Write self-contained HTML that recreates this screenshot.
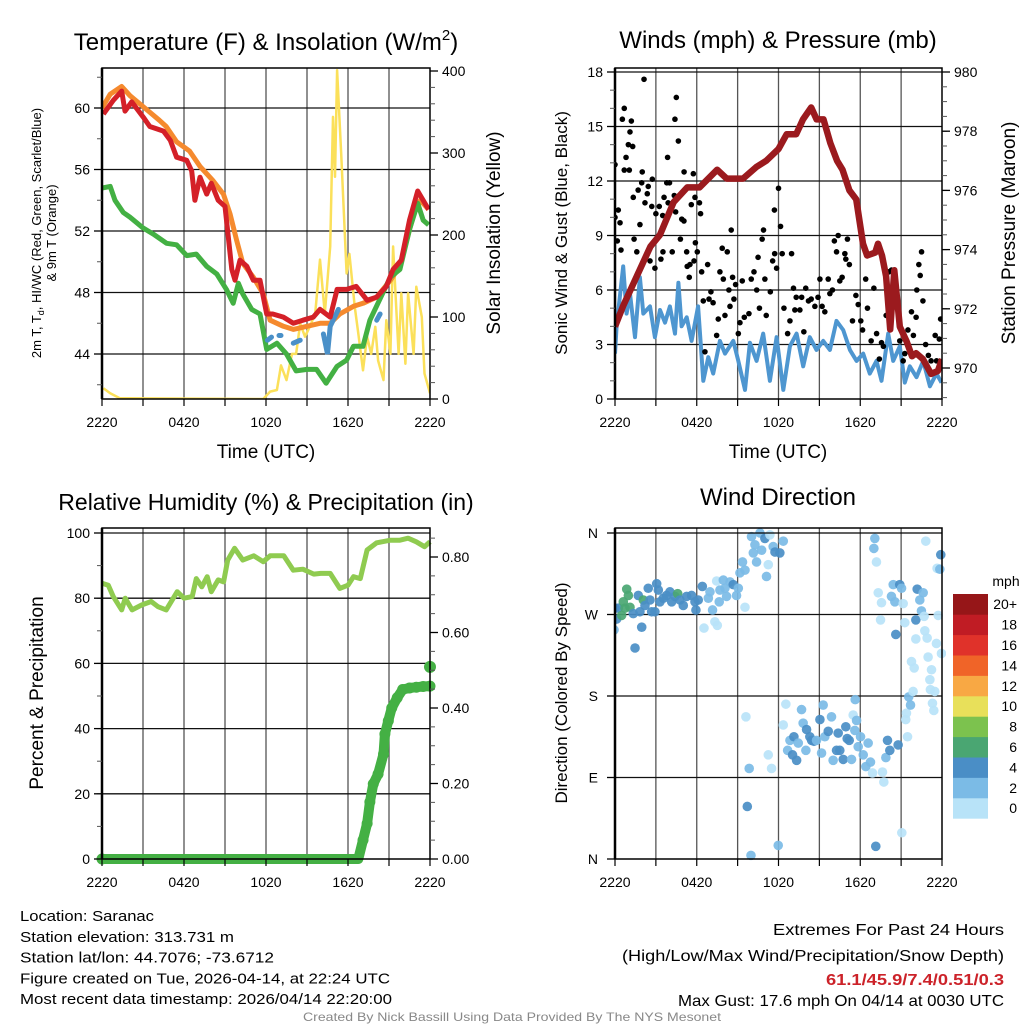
<!DOCTYPE html>
<html><head><meta charset="utf-8"><title>Saranac Meteogram</title>
<style>
html,body{margin:0;padding:0;background:#fff;}
svg{display:block;font-family:"Liberation Sans",Arial,sans-serif;}
</style></head>
<body>
<svg id="chart" xmlns="http://www.w3.org/2000/svg" width="1024" height="1024" viewBox="0 0 1024 1024">
<rect x="0" y="0" width="1024" height="1024" fill="#fff"/>
<g id="layer"></g>
</svg>
<script>
// ===== Data (hours since 2220 UTC) =====
const xTickLabels = ["2220","0420","1020","1620","2220"];
const tempHours = [0.1,0.83,1.44,1.68,2.17,3.02,3.5,4.5,5.0,5.46,6.2,6.56,6.8,7.17,7.66,8.0,8.5,9.0,9.5,9.73,10.1,10.6,11.07,11.56,12.05,12.5,13.27,14.0,14.7,15.46,15.95,16.7,17.2,17.9,18.6,19.4,20.1,20.8,21.3,21.9,22.5,23.1,23.9];
const tempValues = [59.6,60.5,61.1,59.8,60.4,59.4,58.8,58.5,57.9,56.8,56.6,55.9,54.0,55.5,54.4,55.1,54.0,53.6,49.5,48.8,50.1,49.7,48.8,48.8,46.6,46.6,46.4,46.0,46.2,46.4,46.9,46.4,48.2,48.2,48.4,47.5,47.7,48.4,49.5,50.1,52.7,54.6,53.4];
const t9Hours = [0,0.6,1.44,2.05,3.0,4.2,4.7,5.46,6.4,7.17,8.1,8.88,9.37,9.85,10.3,11.07,11.8,12.3,13.27,14.0,15.0,15.95,16.7,17.4,18.4,19.1,20.1,21.1,21.8,22.8,23.3,23.9];
const t9Values = [60.0,60.9,61.4,60.8,60.1,59.2,58.8,57.8,57.2,56.2,55.3,54.4,53.1,51.4,49.9,49.0,47.9,46.2,45.8,45.6,45.8,46.0,46.0,46.6,47.1,47.3,47.7,48.8,49.7,53.1,54.0,53.4];
const dewHours = [0,0.6,0.95,1.56,2.05,3.0,3.75,4.73,5.46,6.2,6.9,7.66,8.4,9.1,9.6,9.98,10.3,10.95,11.56,12.05,12.8,13.5,14.2,15.0,15.7,16.4,17.2,17.9,18.4,19.1,19.6,20.3,21.1,21.8,22.5,23.1,23.5,23.9];
const dewValues = [54.8,54.9,54.0,53.2,52.9,52.2,51.8,51.2,51.1,50.4,50.5,49.7,49.2,48.2,47.3,48.6,47.9,46.9,46.6,44.3,44.7,44.0,42.9,43.0,43.0,42.1,43.2,43.6,44.5,44.5,46.2,47.5,49.0,49.5,52.1,53.8,52.7,52.4];
const wcHours = [12.1,12.4,null,12.95,13.1,null,14.0,14.5,null,16.2,16.5,16.7,17.3,null,20.1,20.35];
const wcValues = [44.9,45.1,null,45.2,45.2,null,44.7,44.9,null,45.3,44.0,45.8,46.9,null,46.2,46.6];
const solarHours = [0.1,0.6,1.3,11.8,12.3,12.8,13.1,13.5,13.9,14.2,14.5,14.85,15.2,15.6,15.95,16.3,16.7,16.9,17.05,17.2,17.5,17.9,18.1,18.5,18.75,19.1,19.4,19.7,20.0,20.2,20.6,20.8,21.1,21.3,21.7,21.9,22.2,22.4,22.8,23.0,23.4,23.6,24.0];
const solarValues = [13,7,1,0,9,11,41,23,55,55,92,76,88,104,170,104,186,344,271,401,299,153,177,112,80,35,76,55,88,47,23,96,55,186,55,129,43,129,55,137,100,31,7];
const tempTicks = [44,48,52,56,60];
const solarTicks = [0,100,200,300,400];

const presHours = [0,0.6,1.6,2.6,3.3,4.3,5.3,6.2,7.5,8.2,9.4,10.4,11.1,12.0,12.6,13.3,13.8,14.4,14.8,15.3,15.8,16.3,16.7,17.2,17.7,18.2,18.5,19.1,19.3,19.6,19.9,20.2,20.5,20.9,21.4,21.8,22.1,22.6,23.2,23.7,24.0];
const presValues = [971.4,972.1,973.1,974.1,974.5,975.6,976.1,976.1,976.7,976.4,976.4,976.8,977.0,977.4,977.9,977.9,978.4,978.8,978.4,978.4,977.6,977.0,976.7,976.0,975.7,974.2,973.8,973.9,974.2,973.8,973.1,971.3,973.3,971.4,970.9,970.4,970.5,970.3,969.8,969.9,970.3];
const windHours = [0,0.12,0.6,0.85,1.1,1.47,1.83,2.08,2.57,2.93,3.3,3.67,4.03,4.4,4.65,4.89,5.26,5.62,6.1,6.48,6.85,7.21,7.7,8.07,8.68,9.05,9.54,9.9,10.39,10.88,11.37,11.86,12.35,12.84,13.33,13.81,14.3,14.79,15.28,15.77,16.26,16.75,17.24,17.73,18.22,18.7,19.19,19.56,20.05,20.42,20.9,21.27,21.64,22.13,22.62,23.11,23.6,23.96];
const windValues = [2.5,4.0,7.3,4.7,5.8,3.4,6.7,4.7,5.1,3.4,4.9,4.2,5.1,3.6,6.4,4.0,4.5,3.2,5.1,1.0,2.3,1.4,3.2,2.5,3.2,2.1,0.5,3.1,2.1,3.6,1.0,3.4,0.5,2.9,3.6,1.8,3.4,2.7,3.2,2.7,4.3,3.8,2.7,2.1,2.5,1.4,2.1,1.0,3.6,2.1,2.9,0.9,1.8,1.2,2.1,0.7,1.4,0.9];
const gustHours = [0,0,0.24,0.37,0.17,0.44,0.54,0.68,0.81,0.68,0.98,1.1,1.2,1.3,1.05,1.34,1.4,1.6,1.7,1.83,2.0,1.96,2.13,2.2,2.37,2.44,2.57,2.74,2.7,2.93,3.0,3.25,3.37,3.5,3.52,3.6,3.86,3.8,3.9,4.0,4.2,4.35,4.4,4.5,4.45,4.65,4.8,4.9,5.06,5.07,5.26,5.3,5.45,5.5,5.6,5.75,5.8,5.87,5.9,6.04,6.2,6.28,6.36,6.48,6.6,6.8,6.9,7.04,7.2,7.46,7.58,7.7,7.87,7.95,8.07,8.24,8.36,8.44,8.53,8.63,8.73,8.85,9.05,9.17,9.34,9.49,9.83,10.0,10.2,10.4,10.5,10.6,10.8,10.9,11.0,11.1,11.4,11.57,11.7,11.72,11.86,12.0,12.15,12.27,12.4,12.67,12.84,12.96,13.1,13.2,13.3,13.57,13.7,13.86,14.0,14.2,14.4,14.67,14.9,15.04,15.2,15.4,15.65,15.77,15.96,16.1,16.26,16.38,16.5,16.67,16.87,16.94,17.06,17.2,17.43,17.68,17.85,18.04,18.17,18.4,18.53,18.8,19.0,19.2,19.4,19.56,19.7,19.9,20.1,20.3,20.5,20.66,20.9,21.15,21.27,21.5,21.76,21.9,22.1,22.15,22.3,22.4,22.5,22.6,22.8,23.0,23.2,23.5,23.6,23.8,23.9];
const gustValues = [10.0,12.9,10.4,9.7,8.7,8.2,15.4,16.0,13.3,12.6,14.0,14.7,15.3,13.9,12.6,11.1,8.8,8.1,11.5,9.6,12.5,11.9,17.6,10.8,11.3,11.7,7.6,12.1,10.6,7.2,10.2,10.6,7.7,10.1,8.1,11.1,13.3,11.9,10.8,11.9,8.1,11.2,15.4,16.6,10.3,14.2,8.8,9.9,9.8,12.5,8.1,7.3,6.7,7.4,10.7,12.4,7.6,11.1,8.6,8.1,10.8,10.2,7.0,5.4,2.6,7.4,5.5,5.9,5.3,3.5,4.4,7.0,8.3,6.6,4.6,8.1,6.0,5.1,9.3,6.7,5.5,6.3,3.6,4.2,6.5,4.5,4.7,6.6,7.0,6.0,7.8,5.0,8.8,9.3,6.6,4.6,5.9,7.6,10.4,8.0,7.2,11.6,9.5,8.0,5.0,3.6,4.3,8.0,6.1,4.9,5.6,4.9,5.6,3.7,6.1,5.4,5.5,5.1,5.6,6.6,5.1,4.8,6.6,5.8,6.0,8.7,8.1,9.0,6.5,6.7,8.0,7.7,8.8,7.4,4.3,5.7,5.2,4.3,3.8,6.6,5.0,3.2,6.1,3.6,2.2,3.1,2.9,4.6,7.0,7.1,6.9,5.4,3.2,2.1,2.5,3.8,4.8,3.5,4.5,6.0,7.4,6.8,8.1,5.4,3.0,2.4,2.1,3.5,2.1,3.3,4.4];
const windTicks = [0,3,6,9,12,15,18];
const presTicks = [970,972,974,976,978,980];

const rhHours = [0,0.46,0.83,1.44,1.7,2.2,2.9,3.6,4.1,4.7,5.5,6.0,6.6,6.9,7.3,7.7,8.0,8.5,8.9,9.2,9.7,10.3,11.1,11.8,12.3,13.3,14.0,14.7,15.5,16.0,16.7,17.4,18.0,18.4,18.9,19.4,20.1,21.1,21.8,22.4,23.0,23.6,24.0];
const rhValues = [84.6,84,80.5,76.4,80,76.4,77.9,79,77.4,76.4,82,80,80.5,86,83.5,86.6,82,85.6,85,91.7,95.3,91.7,93,91.2,93,93,88.6,88.9,87.4,87.6,87.6,83,84,86.6,86,94.8,97,97.8,97.8,98.4,97.3,95.8,97.3];
const precipHours = [0,3,6,9,12,15,18,18.75,19.1,19.4,19.6,19.85,20.2,20.6,20.7,20.95,21.2,21.6,22.0,22.5,23.0,23.5,24.0];
const precipValues = [0,0,0,0,0,0,0,0,0.05,0.094,0.151,0.199,0.225,0.278,0.331,0.366,0.40,0.427,0.449,0.453,0.455,0.457,0.458];
const precipLastValue = 0.509;
const rhTicks = [0,20,40,60,80,100];
const precipTicks = [0,0.2,0.4,0.6,0.8];
const precipTickLabels = ["0.00","0.20","0.40","0.60","0.80"];

const dirHours = [0,-0.07,0.12,0.24,0.49,0.73,0.61,0.98,0.86,1.10,1.34,1.47,1.71,1.83,1.96,2.08,2.20,2.44,2.57,2.69,2.93,3.06,3.18,3.30,3.55,3.79,4.03,4.16,4.40,4.60,4.77,5.01,5.26,5.62,5.87,5.94,6.11,6.41,6.53,6.85,6.97,7.16,7.33,7.51,7.46,7.70,7.65,7.95,8.07,8.19,8.44,8.68,8.92,9.05,9.17,9.36,9.54,9.54,9.61,9.71,9.85,9.98,10.02,10.15,10.39,10.27,10.64,10.76,11.00,11.12,11.25,11.25,11.37,11.49,11.61,11.74,11.98,12.10,12.35,12.35,12.54,12.67,12.84,13.03,13.13,13.33,13.45,13.69,13.81,14.01,14.06,14.30,14.43,14.60,14.79,15.04,15.16,15.28,15.40,15.65,15.89,16.01,16.26,16.38,16.50,16.75,16.94,17.04,17.19,17.36,17.48,17.60,17.73,17.63,17.85,18.02,18.22,18.41,18.58,18.75,18.90,19.07,19.00,19.14,19.19,19.32,19.49,19.56,19.63,19.73,19.88,20.00,20.17,20.29,20.42,20.54,20.61,20.78,20.90,21.03,21.05,21.15,21.27,21.47,21.34,21.39,21.56,21.69,21.76,21.88,21.96,22.08,22.08,22.18,22.37,22.49,22.62,22.69,22.74,22.91,22.98,23.11,23.23,23.15,23.30,23.40,23.47,23.59,23.72,22.81,23.64,23.84,23.91,23.96];
const dirValues = [277,253,265,277,269,277,284,291,298,278,271,233,291,273,256,286,280,299,286,273,273,304,297,284,288,291,295,284,290,293,286,280,290,291,284,275,286,301,255,288,295,275,262,258,307,297,284,308,299,290,306,303,291,299,316,328,278,319,157,58,100,4,356,338,328,347,360,341,354,312,325,115,358,100,345,339,15,338,351,148,171,120,131,115,135,109,128,165,150,120,143,135,131,130,131,154,117,170,135,141,157,109,120,139,120,110,146,133,131,110,159,142,153,176,124,135,115,102,128,107,95,354,343,14,328,294,264,283,96,85,112,131,120,290,303,284,248,126,303,299,29,282,261,135,154,161,179,170,218,185,211,243,264,298,286,274,294,268,252,244,223,198,209,187,172,164,185,238,269,351,321,320,336,227];
const dirSpeeds = [4,2,4,4,6,6,6,6,6,6,4,4,4,4,4,6,4,4,4,4,4,4,4,4,4,4,4,4,4,6,4,4,4,4,4,4,4,4,0,2,2,2,0,0,0,2,2,2,2,2,2,4,2,2,2,2,0,2,0,4,2,2,2,2,2,2,2,2,4,2,0,0,0,0,2,4,2,4,2,0,0,2,2,4,4,4,2,2,2,2,4,4,4,4,2,4,2,2,2,4,2,2,4,4,4,4,4,4,4,2,0,2,2,2,2,2,2,2,2,2,0,2,2,4,0,0,0,0,0,0,2,4,4,2,2,2,4,4,4,2,0,0,0,0,0,0,2,2,0,0,0,0,4,4,2,2,2,0,0,0,0,0,0,0,0,0,0,0,0,0,0,2,4,0];
const dirTickLabels = ["N","E","S","W","N"];
const speedLabels = ["0","2","4","6","8","10","12","14","16","18","20+"];
const speedColors = ["#b8e3f8","#7bbbe6","#4a8ec6","#4aa672","#7cc24e","#e8e05a","#f8a844","#f06428","#e0322a","#c01c24","#961618"];

// ===== helpers =====
const NS = "http://www.w3.org/2000/svg";
const layer = document.getElementById('layer');
function mk(tag, attrs, parent){ const e=document.createElementNS(NS,tag); for(const k in attrs) e.setAttribute(k,attrs[k]); (parent||layer).appendChild(e); return e; }
function lin(d0,d1,r0,r1){ return v => r0 + (v-d0)*(r1-r0)/(d1-d0); }
function pathFrom(xs, ys, fx, fy){
  let d="", pen=false;
  for(let i=0;i<xs.length;i++){
    if(xs[i]===null||ys[i]===null){pen=false;continue;}
    d += (pen?"L":"M")+fx(xs[i]).toFixed(1)+","+fy(ys[i]).toFixed(1);
    pen=true;
  }
  return d;
}
function txt(x,y,s,size,opts,name){
  const t=mk('text',Object.assign({x:x,y:y,'font-size':size,fill:'#000'},opts||{}));
  t.textContent=s;
  
  
  return t;
}

function panelFrame(x0,x1,y0,y1,fx,leftTicks,fyL,rightTicks,fyR,name){
  const g=mk('g',{});
  
  
  for(let h=3;h<24;h+=3){
    const l=mk('line',{x1:fx(h),x2:fx(h),y1:y0,y2:y1,stroke:'#555','stroke-width':1.3},g);
    
    
  }
  leftTicks.forEach(v=>{
    const y=fyL(v);
    if(y>y0+2&&y<y1-2){
      const l=mk('line',{x1:x0,x2:x1,y1:y,y2:y,stroke:'#111','stroke-width':1.3},g);
      
      
    }
  });
  return g;
}
function frameBorder(x0,x1,y0,y1,name){
  const r=mk('rect',{x:x0,y:y0,width:x1-x0,height:y1-y0,fill:'none',stroke:'#000','stroke-width':1.5});
  
  
  mk('line',{x1:x0,x2:x0,y1:y0,y2:y1,stroke:'#000','stroke-width':2.5});
}
function xAxis(x0,x1,y1,fx,name){
  for(let h=0;h<=24;h+=3){
    mk('line',{x1:fx(h),x2:fx(h),y1:y1,y2:y1+7,stroke:'#000','stroke-width':1.2});
  }
  xTickLabels.forEach((s,i)=>{ txt(fx(i*6),y1+28,s,14,{'text-anchor':'middle'},name+'-x-tick-label'); });
}
function yTicks(x,ticks,fy,labels,side,name,minorStep,dmin,dmax){
  const dir = side==='left'?-1:1;
  if(minorStep){
    for(let v=Math.ceil(dmin/minorStep)*minorStep; v<=dmax; v+=minorStep){
      mk('line',{x1:x,x2:x+dir*5,y1:fy(v),y2:fy(v),stroke:'#555','stroke-width':1});
    }
  }
  ticks.forEach((v,i)=>{
    mk('line',{x1:x,x2:x+dir*8,y1:fy(v),y2:fy(v),stroke:'#000','stroke-width':1.3});
    txt(side==='left'?x-12:x+12,fy(v)+5,labels[i],14,{'text-anchor':side==='left'?'end':'start'},name);
  });
}

// ===== Panel 1: Temperature =====
(function(){
  const x0=102,x1=430,y0=68,y1=399;
  const fx=lin(0,24,x0,x1);
  const fy=lin(44,60,354,108);
  const fs=lin(0,400,399,71);
  panelFrame(x0,x1,y0,y1,fx,tempTicks,fy,solarTicks,fs,'temperature');
  const clip=mk('clipPath',{id:'c1'}); mk('rect',{x:x0,y:y0,width:x1-x0,height:y1-y0},clip);
  const g=mk('g',{'clip-path':'url(#c1)'});
  const s=mk('path',{d:pathFrom(solarHours,solarValues,fx,fs),fill:'none',stroke:'#fbe05a','stroke-width':2.5,'stroke-linejoin':'round'},g);
   
  const o=mk('path',{d:pathFrom(t9Hours,t9Values,fx,fy),fill:'none',stroke:'#f58a2e','stroke-width':5,'stroke-linejoin':'round'},g);
   
  const d=mk('path',{d:pathFrom(dewHours,dewValues,fx,fy),fill:'none',stroke:'#43b043','stroke-width':5,'stroke-linejoin':'round'},g);
   
  const w=mk('path',{d:pathFrom(wcHours,wcValues,fx,fy),fill:'none',stroke:'#4a90c8','stroke-width':5,'stroke-linecap':'round'},g);
   
  const r=mk('path',{d:pathFrom(tempHours,tempValues,fx,fy),fill:'none',stroke:'#d42028','stroke-width':5,'stroke-linejoin':'round'},g);
   
  frameBorder(x0,x1,y0,y1,'temperature');
  xAxis(x0,x1,y1,fx,'temperature');
  yTicks(x0,tempTicks,fy,tempTicks.map(String),'left','temperature-y-tick-label',2,41.1,62.6);
  yTicks(x1,solarTicks,fs,solarTicks.map(String),'right','solar-y-tick-label',20,0,403);
  const t=txt(266,50,'',24,{'text-anchor':'middle'},'temperature-title');
  t.innerHTML='Temperature (F) &amp; Insolation (W/m<tspan font-size="15" dy="-10">2</tspan><tspan dy="10">)</tspan>';
  txt(266,458,'Time (UTC)',19,{'text-anchor':'middle'},'temperature-x-axis-title');
  const yl=txt(0,0,'',13,{'text-anchor':'middle',transform:'translate(41,233) rotate(-90)'},'temperature-y-axis-title');
  yl.innerHTML='2m T, T<tspan font-size="9" dy="3">d</tspan><tspan dy="-3">, HI/WC (Red, Green, Scarlet/Blue)</tspan>';
  txt(0,0,'& 9m T (Orange)',13,{'text-anchor':'middle',transform:'translate(56,233) rotate(-90)'},'temperature-y-axis-title-line2');
  txt(0,0,'Solar Insolation (Yellow)',19,{'text-anchor':'middle',transform:'translate(500,233) rotate(-90)'},'solar-y-axis-title');
})();

// ===== Panel 2: Winds & Pressure =====
(function(){
  const x0=615,x1=942,y0=68,y1=399;
  const fx=lin(0,24,x0,x1);
  const fy=lin(0,18,399,72);
  const fp=lin(970,980,368,72);
  panelFrame(x0,x1,y0,y1,fx,windTicks,fy,presTicks,fp,'winds');
  const clip=mk('clipPath',{id:'c2'}); mk('rect',{x:x0,y:y0,width:x1-x0,height:y1-y0},clip);
  const g=mk('g',{'clip-path':'url(#c2)'});
  const w=mk('path',{d:pathFrom(windHours,windValues,fx,fy),fill:'none',stroke:'#4e96d0','stroke-width':4,'stroke-linejoin':'round'},g);
   
  const gg=mk('g',{},g);
   
  gustHours.forEach((h,i)=>{
    const c=mk('circle',{cx:fx(h),cy:fy(gustValues[i]),r:2.8,fill:'#000'},gg);
    
    
  });
  const p=mk('path',{d:pathFrom(presHours,presValues,fx,fp),fill:'none',stroke:'#9b1a1e','stroke-width':6.5,'stroke-linejoin':'round'},g);
   
  frameBorder(x0,x1,y0,y1,'winds');
  xAxis(x0,x1,y1,fx,'winds');
  yTicks(x0,windTicks,fy,windTicks.map(String),'left','wind-y-tick-label',1,0,18.1);
  yTicks(x1,presTicks,fp,presTicks.map(String),'right','pressure-y-tick-label',0.5,969,980.1);
  txt(778,48,'Winds (mph) & Pressure (mb)',24,{'text-anchor':'middle'},'winds-title');
  txt(778,458,'Time (UTC)',19,{'text-anchor':'middle'},'winds-x-axis-title');
  txt(0,0,'Sonic Wind & Gust (Blue, Black)',17,{'text-anchor':'middle',transform:'translate(567,233) rotate(-90)'},'wind-y-axis-title');
  txt(0,0,'Station Pressure (Maroon)',19,{'text-anchor':'middle',transform:'translate(1015,233) rotate(-90)'},'pressure-y-axis-title');
})();

// ===== Panel 3: RH & Precip =====
(function(){
  const x0=102,x1=430,y0=528,y1=859;
  const fx=lin(0,24,x0,x1);
  const fy=lin(0,100,859,533);
  const fp=lin(0,0.8,859,557);
  panelFrame(x0,x1,y0,y1,fx,rhTicks,fy,precipTicks,fp,'humidity');
  const rh=mk('path',{d:pathFrom(rhHours,rhValues,fx,fy),fill:'none',stroke:'#8fcb50','stroke-width':5,'stroke-linejoin':'round'});
   
  const pl=mk('path',{d:pathFrom(precipHours,precipValues,fx,fp),fill:'none',stroke:'#44b044','stroke-width':10,'stroke-linejoin':'round'});
   
  const pg=mk('g',{});
   
  precipHours.forEach((h,i)=>{
    if(precipValues[i]>0){
      const c=mk('circle',{cx:fx(h),cy:fp(precipValues[i]),r:5.5,fill:'#44b044'},pg);
      
      
    }
  });
  const c0=mk('circle',{cx:fx(0),cy:fp(0),r:5.5,fill:'#44b044'},pg);
  
  
  const lc=mk('circle',{cx:fx(24),cy:fp(precipLastValue),r:6,fill:'#44b044'},pg);
  
  
  frameBorder(x0,x1,y0,y1,'humidity');
  xAxis(x0,x1,y1,fx,'humidity');
  yTicks(x0,rhTicks,fy,rhTicks.map(String),'left','humidity-y-tick-label',10,0,101);
  yTicks(x1,precipTicks,fp,precipTickLabels,'right','precip-y-tick-label',0.05,0,0.87);
  txt(266,510,'Relative Humidity (%) & Precipitation (in)',23,{'text-anchor':'middle'},'humidity-title');
  txt(0,0,'Percent & Precipitation',19,{'text-anchor':'middle',transform:'translate(43,693) rotate(-90)'},'humidity-y-axis-title');
})();

// ===== Panel 4: Wind direction =====
(function(){
  const x0=615,x1=942,y0=528,y1=859;
  const fx=lin(0,24,x0,x1);
  const fy=lin(0,360,859,533);
  const g=mk('g',{});
   
  for(let h=3;h<24;h+=3){ const l=mk('line',{x1:fx(h),x2:fx(h),y1:y0,y2:y1,stroke:'#555','stroke-width':1.3},g);   }
  [90,180,270].forEach(v=>{ const l=mk('line',{x1:x0,x2:x1,y1:fy(v),y2:fy(v),stroke:'#111','stroke-width':1.3},g);   });
  const clip=mk('clipPath',{id:'c4'}); mk('rect',{x:x0,y:y0-3,width:x1-x0+4,height:y1-y0+6},clip);
  const dg=mk('g',{'clip-path':'url(#c4)'});
   
  dirHours.forEach((h,i)=>{
    const c=mk('circle',{cx:fx(h),cy:fy(dirValues[i]),r:4.8,fill:speedColors[Math.min(10,Math.floor(dirSpeeds[i]/2))],'fill-opacity':0.92},dg);
    
    
  });
  frameBorder(x0,x1,y0,y1,'direction');
  mk('line',{x1:x0,x2:x1,y1:fy(360),y2:fy(360),stroke:'#000','stroke-width':1.3});
  xAxis(x0,x1,y1,fx,'direction');
  [0,90,180,270,360].forEach((v,i)=>{
    mk('line',{x1:x0,x2:x0-8,y1:fy(v),y2:fy(v),stroke:'#000','stroke-width':1.3});
    txt(x0-17,fy(v)+5,dirTickLabels[i],14,{'text-anchor':'end'},'direction-y-tick-label');
  });
  txt(778,505,'Wind Direction',24,{'text-anchor':'middle'},'direction-title');
  txt(0,0,'Direction (Colored By Speed)',17,{'text-anchor':'middle',transform:'translate(567,693) rotate(-90)'},'direction-y-axis-title');
  // colorbar
  const cb=mk('g',{});
   
  const bh=20.4, by0=594;
  speedColors.forEach((col,i)=>{
    const y=by0+(10-i)*bh;
    const r=mk('rect',{x:953,y:y,width:35,height:bh+0.3,fill:col},cb);
    
    
    txt(1017,y+bh/2+5,speedLabels[i],14,{'text-anchor':'end'},'colorbar-label');
  });
  txt(1006,586,'mph',14,{'text-anchor':'middle'},'colorbar-title');
})();

// ===== Footer text =====
const infoLines=["Location: Saranac","Station elevation: 313.731 m","Station lat/lon: 44.7076; -73.6712","Figure created on Tue, 2026-04-14, at 22:24 UTC","Most recent data timestamp: 2026/04/14 22:20:00"];
const infoW=[134,214,254,370,372];
infoLines.forEach((s,i)=>{ txt(20,921+i*20.8,s,15,{textLength:infoW[i],lengthAdjust:'spacingAndGlyphs'},'station-info-line'); });
txt(1004,935,'Extremes For Past 24 Hours',16,{'text-anchor':'end',textLength:231,lengthAdjust:'spacingAndGlyphs'},'extremes-title');
txt(1004,961,'(High/Low/Max Wind/Precipitation/Snow Depth)',16,{'text-anchor':'end',textLength:382,lengthAdjust:'spacingAndGlyphs'},'extremes-subtitle');
txt(1004,985,'61.1/45.9/7.4/0.51/0.3',16,{'text-anchor':'end',fill:'#cc2229','font-weight':'bold',textLength:178,lengthAdjust:'spacingAndGlyphs'},'extremes-values');
txt(1004,1006,'Max Gust: 17.6 mph On 04/14 at 0030 UTC',16,{'text-anchor':'end',textLength:326,lengthAdjust:'spacingAndGlyphs'},'max-gust');
txt(512,1021,'Created By Nick Bassill Using Data Provided By The NYS Mesonet',12,{'text-anchor':'middle',fill:'#888',textLength:418,lengthAdjust:'spacingAndGlyphs'},'credit');
</script>
</body></html>
